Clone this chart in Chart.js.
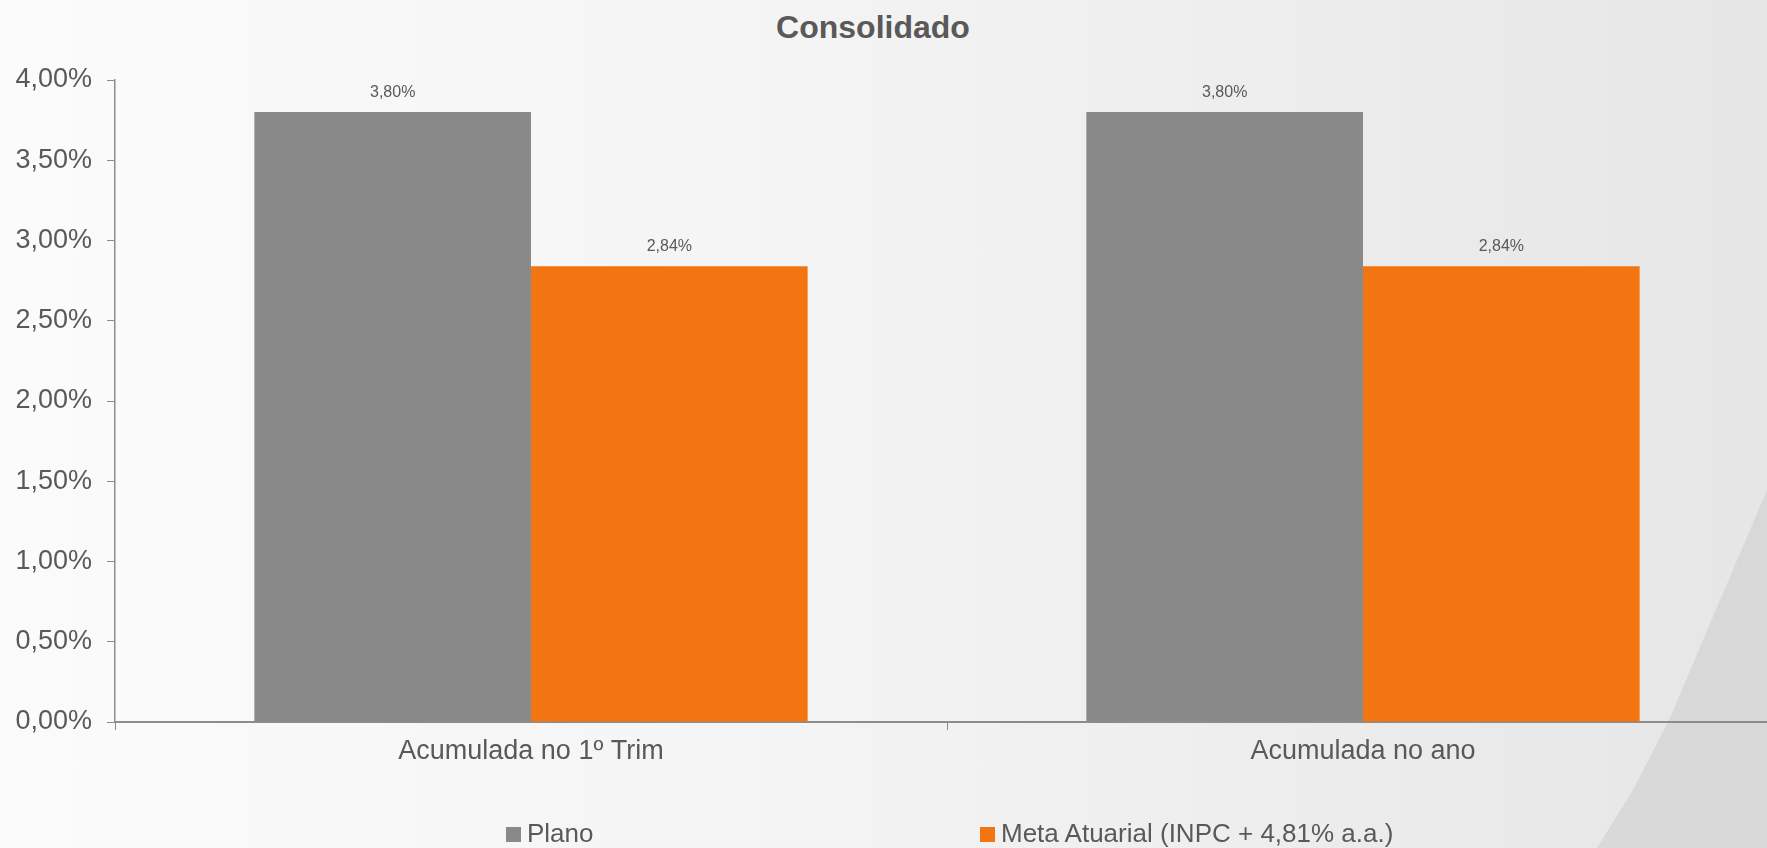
<!DOCTYPE html>
<html lang="pt-BR">
<head>
<meta charset="utf-8">
<title>Consolidado</title>
<script src="https://cdn.jsdelivr.net/npm/chart.js@4.4.0/dist/chart.umd.min.js"></script>
<style>
    html, body {
        margin: 0;
        padding: 0;
        width: 1767px;
        height: 848px;
        overflow: hidden;
    }
    body {
        position: relative;
        font-family: "Liberation Sans", Arial, sans-serif;
        color: #595959;
        background: linear-gradient(to right, #fbfbfb 0%, #f4f4f5 45%, #e6e6e7 100%);
    }
    #swoosh {
        position: absolute;
        inset: 0;
        background: linear-gradient(to right, #e0e0e1, #d8d8d9);
        clip-path: polygon(1767px 490px, 1735px 565px, 1703px 640px, 1670px 718px, 1634px 788px, 1597px 848px, 1767px 848px);
    }
    #chart-title {
        position: absolute;
        left: 0;
        top: 11px;
        width: 1746px;
        text-align: center;
        font-size: 32px;
        line-height: 32px;
        font-weight: bold;
    }
    #chart-wrap {
        position: absolute;
        left: 0;
        top: 0;
        width: 1785px;
        height: 848px;
    }
    #legend {
        position: absolute;
        left: 506px;
        top: 820px;
        display: flex;
        font-size: 26px;
        line-height: 26px;
        white-space: nowrap;
    }
    .legend-item {
        width: 474px;
        display: flex;
        align-items: center;
    }
    .legend-box {
        width: 15px;
        height: 15px;
        margin-right: 6px;
        margin-top: 2px;
    }
</style>
</head>
<body>
<div id="swoosh"></div>
<div id="chart-title">Consolidado</div>
<div id="chart-wrap"><canvas id="consolidado"></canvas></div>
<div id="legend"></div>

<script>
const categories = ["Acumulada no 1º Trim", "Acumulada no ano"];
const seriesNames = ["Plano", "Meta Atuarial (INPC + 4,81% a.a.)"];
const planoValues = [3.80, 3.80];
const metaValues = [2.84, 2.84];
const yAxisMin = 0;
const yAxisMax = 4;
const yAxisStep = 0.5;

const seriesColors = ["#898989", "#f27511"];
const textColor = "#595959";
const axisColor = "#8c8c8c";
const fontFamily = '"Liberation Sans", Arial, sans-serif';

function formatPercent(value) {
    return value.toFixed(2).replace(".", ",") + "%";
}

// rótulos de valor acima de cada barra
const barValueLabels = {
    id: "barValueLabels",
    afterDatasetsDraw(chart) {
        const ctx = chart.ctx;
        ctx.save();
        ctx.font = "16px " + fontFamily;
        ctx.fillStyle = textColor;
        ctx.textAlign = "center";
        ctx.textBaseline = "alphabetic";
        chart.data.datasets.forEach((dataset, i) => {
            chart.getDatasetMeta(i).data.forEach((bar, j) => {
                ctx.fillText(formatPercent(dataset.data[j]), bar.x, bar.y - 15);
            });
        });
        ctx.restore();
    }
};

const chartCanvas = document.getElementById("consolidado");

const consolidadoChart = new Chart(chartCanvas, {
    type: "bar",
    data: {
        labels: categories,
        datasets: [
            {
                label: seriesNames[0],
                data: planoValues,
                backgroundColor: seriesColors[0],
            },
            {
                label: seriesNames[1],
                data: metaValues,
                backgroundColor: seriesColors[1],
            },
        ],
    },
    options: {
        responsive: true,
        maintainAspectRatio: false,
        animation: false,
        datasets: {
            bar: {
                categoryPercentage: 0.665,
                barPercentage: 1.0,
            },
        },
        layout: {
            padding: { top: 80, right: 6, bottom: 0, left: 0 },
        },
        plugins: {
            legend: { display: false },
            title: { display: false },
            tooltip: { enabled: false },
        },
        scales: {
            x: {
                grid: {
                    offset: true,
                    drawOnChartArea: false,
                    drawTicks: true,
                    tickLength: 8,
                    color: axisColor,
                },
                border: { color: axisColor, width: 2 },
                ticks: {
                    color: textColor,
                    font: { family: fontFamily, size: 27 },
                    padding: 5,
                },
                afterFit: (scale) => { scale.height = 126; },
            },
            y: {
                min: yAxisMin,
                max: yAxisMax,
                grid: {
                    drawOnChartArea: false,
                    drawTicks: true,
                    tickLength: 8,
                    color: axisColor,
                },
                border: { color: axisColor, width: 1.5 },
                ticks: {
                    stepSize: yAxisStep,
                    color: textColor,
                    font: { family: fontFamily, size: 27 },
                    padding: 15,
                    callback: (value) => formatPercent(value),
                },
                afterFit: (scale) => { scale.width = 115; },
            },
        },
    },
    plugins: [barValueLabels],
});

// legenda em HTML, montada a partir dos datasets
const legendEl = document.getElementById("legend");
for (const dataset of consolidadoChart.data.datasets) {
    const item = document.createElement("div");
    item.className = "legend-item";
    const box = document.createElement("span");
    box.className = "legend-box";
    box.style.background = dataset.backgroundColor;
    const text = document.createElement("span");
    text.innerText = dataset.label;
    item.appendChild(box);
    item.appendChild(text);
    legendEl.appendChild(item);
}
</script>
</body>
</html>
